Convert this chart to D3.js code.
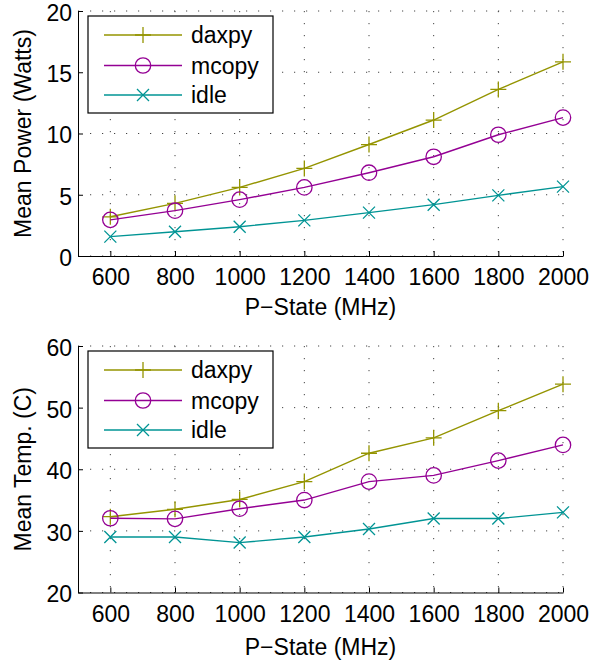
<!DOCTYPE html>
<html><head><meta charset="utf-8">
<script src="https://cdn.jsdelivr.net/npm/d3@7"></script>
<style>body{margin:0;background:#fff}svg{display:block}text{font-family:"Liberation Sans",Arial,Helvetica,sans-serif}</style>
</head><body><div id="chart"></div>
<script>
// ---- data ----
const pStates = [600, 800, 1000, 1200, 1400, 1600, 1800, 2000];
const seriesNames = ["daxpy", "mcopy", "idle"];
const powerDaxpy = [3.2, 4.3, 5.6, 7.15, 9.1, 11.1, 13.6, 15.85];
const powerMcopy = [2.95, 3.7, 4.6, 5.6, 6.8, 8.1, 9.9, 11.3];
const powerIdle  = [1.58, 1.98, 2.39, 2.91, 3.54, 4.19, 4.95, 5.66];
const tempDaxpy  = [32.3, 33.5, 35.1, 38.0, 42.6, 45.1, 49.5, 53.8];
const tempMcopy  = [32.05, 31.95, 33.6, 35.0, 38.0, 39.0, 41.4, 43.95];
const tempIdle   = [29.0, 29.0, 28.1, 29.0, 30.3, 32.0, 32.0, 33.0];
const xTicks = [600, 800, 1000, 1200, 1400, 1600, 1800, 2000];
const powerTicks = [0, 5, 10, 15, 20];
const tempTicks = [20, 30, 40, 50, 60];
const xLabel = "P\u2212State (MHz)";
const powerLabel = "Mean Power (Watts)";
const tempLabel = "Mean Temp. (C)";

// ---- style ----
const W = 589, H = 662;
const colors = ["#949400", "#940094", "#009494"];
const markers = ["plus", "circle", "cross"];
const FS = 23;

const svg = d3.select("#chart").append("svg").attr("width", W).attr("height", H);
const x = d3.scaleLinear().domain([500, 2000]).range([78, 563]);

function marker(g, type, color) {
  if (type === "plus") g.append("path").attr("d", "M-8,0H8M0,-8V8");
  else if (type === "circle") g.append("circle").attr("r", 7.7);
  else g.append("path").attr("d", "M-6,-6L6,6M-6,6L6,-6");
  g.selectAll("path,circle").attr("fill", "none").attr("stroke", color).attr("stroke-width", 1.3);
}

function panel(opt) {
  const y = d3.scaleLinear().domain(opt.domain).range([opt.bottom, opt.top]);
  const g = svg.append("g");
  // grid
  g.append("g").selectAll("line").data(xTicks).join("line")
    .attr("x1", d => x(d)).attr("x2", d => x(d)).attr("y1", opt.top).attr("y2", opt.bottom)
    .attr("stroke", "#444").attr("stroke-width", 1).attr("stroke-dasharray", "1.2,10.8");
  g.append("g").selectAll("line").data(opt.ticks).join("line")
    .attr("y1", d => y(d)).attr("y2", d => y(d)).attr("x1", x.range()[0]).attr("x2", x.range()[1])
    .attr("stroke", "#444").attr("stroke-width", 1).attr("stroke-dasharray", "1.2,10.8");
  // axes
  const ax = g.append("g").attr("transform", `translate(0,${opt.bottom})`)
    .call(d3.axisBottom(x).tickValues(xTicks).tickFormat(d3.format("d"))
      .tickSizeInner(-5).tickSizeOuter(0).tickPadding(13));
  const ay = g.append("g").attr("transform", `translate(${x.range()[0]},0)`)
    .call(d3.axisLeft(y).tickValues(opt.ticks).tickFormat(d3.format("d"))
      .tickSizeInner(-5).tickSizeOuter(0).tickPadding(6));
  ay.selectAll("text").attr("dy", "0.41em");
  [ax, ay].forEach(a => {
    a.selectAll("text").attr("font-size", FS).attr("fill", "#000").attr("font-family", '"Liberation Sans",Arial,sans-serif');
    a.select(".domain").attr("stroke", "#000");
    a.selectAll(".tick line").attr("stroke", "#000");
  });
  // labels
  g.append("text").attr("x", (x.range()[0] + x.range()[1]) / 2).attr("y", opt.xlabY)
    .attr("text-anchor", "middle").attr("font-size", FS).text(xLabel);
  g.append("text").attr("transform", `translate(${opt.ylabX},${(opt.top + opt.bottom) / 2}) rotate(-90)`)
    .attr("text-anchor", "middle").attr("font-size", FS).text(opt.ylabel);
  // series
  const line = d3.line().x((d, i) => x(pStates[i])).y(d => y(d));
  opt.series.forEach((vals, k) => {
    g.append("path").datum(vals).attr("d", line).attr("fill", "none")
      .attr("stroke", colors[k]).attr("stroke-width", 1.4);
    vals.forEach((v, i) => {
      marker(g.append("g").attr("transform", `translate(${x(pStates[i])},${y(v)})`), markers[k], colors[k]);
    });
  });
  // legend
  const lg = g.append("g").attr("transform", `translate(88,${opt.top + 5})`);
  lg.append("rect").attr("x", 0).attr("y", 0).attr("width", 185).attr("height", 97)
    .attr("fill", "#fff").attr("stroke", "#000").attr("stroke-width", 1.2);
  const rows = [19, 49.5, 79];
  seriesNames.forEach((name, k) => {
    lg.append("line").attr("x1", 16).attr("x2", 94).attr("y1", rows[k]).attr("y2", rows[k])
      .attr("stroke", colors[k]).attr("stroke-width", 1.4);
    marker(lg.append("g").attr("transform", `translate(55,${rows[k]})`), markers[k], colors[k]);
    lg.append("text").attr("x", 103).attr("y", rows[k]).attr("dy", "0.35em")
      .attr("font-size", FS).text(name);
  });
}

panel({ top: 11, bottom: 256, domain: [0, 20], ticks: powerTicks, ylabel: powerLabel,
        series: [powerDaxpy, powerMcopy, powerIdle], xlabY: 315, ylabX: 31 });
panel({ top: 346, bottom: 592.5, domain: [20, 60], ticks: tempTicks, ylabel: tempLabel,
        series: [tempDaxpy, tempMcopy, tempIdle], xlabY: 655, ylabX: 31 });
</script></body></html>
